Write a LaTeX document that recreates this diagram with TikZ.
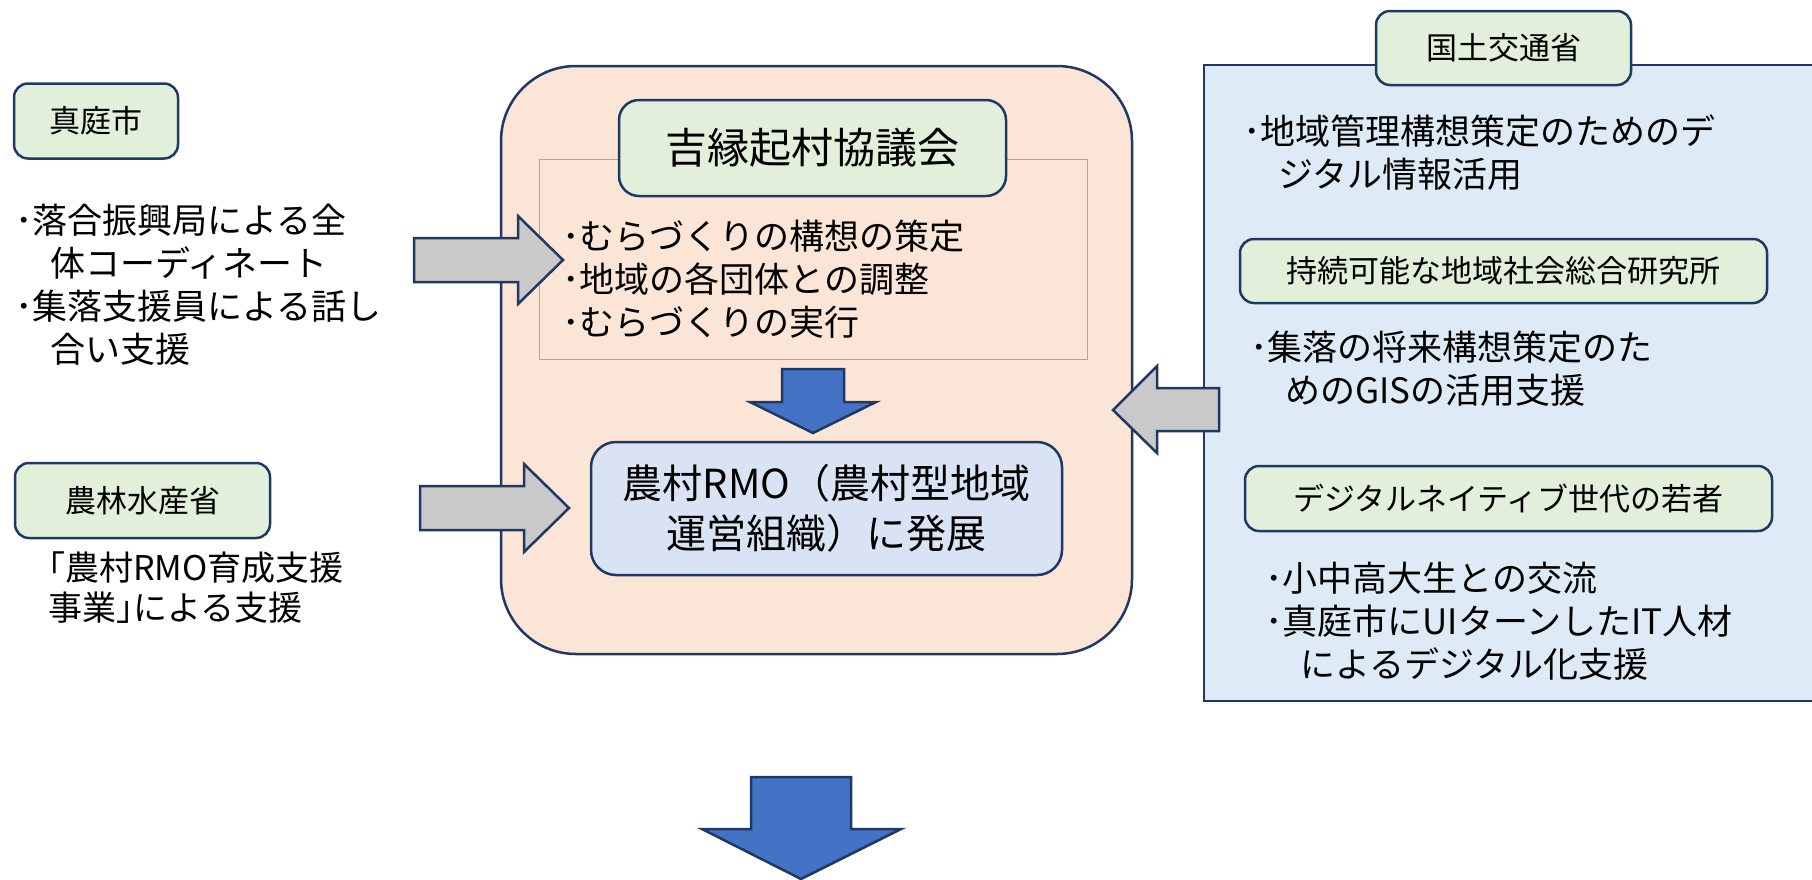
\documentclass[tikz,border=0pt]{standalone}
\usepackage{fontspec}
\setmainfont{Noto Sans CJK JP}
\usetikzlibrary{positioning}

\definecolor{navy}{HTML}{203864}
\definecolor{boxgreen}{HTML}{E2EFDA}
\definecolor{peach}{HTML}{FBE5D6}
\definecolor{panelblue}{HTML}{DEEBF7}
\definecolor{rmoblue}{HTML}{DAE3F3}
\definecolor{thinblue}{HTML}{8FAADC}
\definecolor{arrowgray}{HTML}{C9C9C9}
\definecolor{arrowblue}{HTML}{4472C4}

\newcommand{\lineindent}{\hspace*{1em}}

\begin{document}
\begin{tikzpicture}[x=1pt, y=-1pt,
  orgbox/.style={draw=navy, line width=2.5pt, rounded corners=14pt, fill=boxgreen,
    inner sep=0pt, font=\fontsize{31}{38}\selectfont},
  bodytext/.style={inner sep=0pt, align=left, anchor=west, font=\fontsize{35}{43}\selectfont},
  grayarrow/.style={draw=navy, line width=2.5pt, fill=arrowgray},
  bluearrow/.style={draw=navy, line width=2.5pt, fill=arrowblue}]

  \useasboundingbox (0,0) rectangle (1812,879);
  \clip (0,0) rectangle (1812,879);

  % Council frame
  \draw[draw=navy, line width=2.5pt, fill=peach, rounded corners=75pt] (501,66) rectangle (1132,654);
  \draw[draw=thinblue, line width=1pt] (539,159) rectangle (1087,359);

  % Council
  \node[orgbox, minimum width=387, minimum height=96, rounded corners=20pt,
    font=\fontsize{42}{50}\selectfont] (kyogikai) at (812.5,148) {吉縁起村協議会};
  \node[bodytext] (tasks) at (562,279) {･むらづくりの構想の策定\\･地域の各団体との調整\\･むらづくりの実行};

  % Development
  \draw[bluearrow] (782,369) -- (844,369) -- (844,402) -- (876,402) -- (813,433) -- (750,402) -- (782,402) -- cycle;
  \node[orgbox, fill=rmoblue, minimum width=471, minimum height=133, rounded corners=25pt,
    align=center, font=\fontsize{40}{50}\selectfont] (rmo) at (826.5,508.5) {農村RMO（農村型地域\\運営組織）に発展};

  % Maniwa city
  \node[orgbox, minimum width=164, minimum height=75] (maniwa) at (96,121) {真庭市};
  \node[bodytext] (maniwaText) at (15,285) {･落合振興局による全\\\lineindent 体コーディネート\\･集落支援員による話し\\\lineindent 合い支援};

  % MAFF
  \node[orgbox, minimum width=255, minimum height=75] (maff) at (142.5,500.5) {農林水産省};
  \node[bodytext, font=\fontsize{34}{40}\selectfont] (maffText) at (48,588) {｢農村RMO育成支援\\事業｣による支援};

  % Support panel
  \draw[draw=navy, line width=2.5pt, fill=panelblue] (1204,65) rectangle (1840,701);
  \node[orgbox, minimum width=255, minimum height=74] (mlit) at (1503.5,48) {国土交通省};
  \node[bodytext] (mlitText) at (1243,152.5) {･地域管理構想策定のためのデ\\\lineindent ジタル情報活用};
  \node[orgbox, minimum width=527, minimum height=64] (jizoku) at (1503.5,271) {持続可能な地域社会総合研究所};
  \node[bodytext] (jizokuText) at (1250,369) {･集落の将来構想策定のた\\\lineindent めのGISの活用支援};
  \node[orgbox, minimum width=527, minimum height=65] (native) at (1508.5,498.5) {デジタルネイティブ世代の若者};
  \node[bodytext] (nativeText) at (1265,621) {･小中高大生との交流\\･真庭市にUIターンしたIT人材\\\lineindent によるデジタル化支援};

  % Support arrows
  \foreach \x/\y in {414/260, 420/508} {
    \draw[grayarrow] (\x,\y-22) -- (\x+104,\y-22) -- (\x+104,\y-44) -- (\x+149,\y)
      -- (\x+104,\y+44) -- (\x+104,\y+22) -- (\x,\y+22) -- cycle;
  }
  \draw[grayarrow] (1219,388) -- (1157,388) -- (1157,366) -- (1113,410)
    -- (1157,453) -- (1157,431) -- (1219,431) -- cycle;

  % Result arrow
  \draw[bluearrow] (751,777) -- (851,777) -- (851,829) -- (901,829) -- (801,879) -- (702,829) -- (751,829) -- cycle;

\end{tikzpicture}
\end{document}
